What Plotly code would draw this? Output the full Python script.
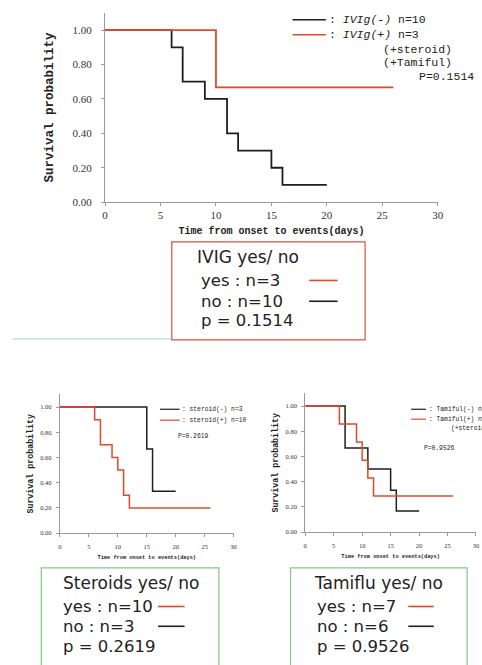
import plotly.graph_objects as go

W, H = 482, 665

# ---- data (Kaplan-Meier step points) ----
ivig_no_t = [0, 6, 7, 9, 11, 12, 15, 16, 20]
ivig_no_s = [1.0, 0.9, 0.7, 0.6, 0.4, 0.3, 0.2, 0.1, 0.1]
ivig_yes_t = [0, 10, 26]
ivig_yes_s = [1.0, 0.667, 0.667]

ster_no_t = [0, 15, 16, 20]
ster_no_s = [1.0, 0.667, 0.333, 0.333]
ster_yes_t = [0, 6, 7, 9, 10, 11, 12, 26]
ster_yes_s = [1.0, 0.9, 0.7, 0.6, 0.5, 0.3, 0.2, 0.2]

tami_no_t = [0, 7, 11, 15, 16, 20]
tami_no_s = [1.0, 0.667, 0.5, 0.333, 0.167, 0.167]
tami_yes_t = [0, 6, 9, 10, 11, 12, 26]
tami_yes_s = [1.0, 0.857, 0.714, 0.571, 0.429, 0.286, 0.286]

y_ticks = [0, 0.2, 0.4, 0.6, 0.8, 1.0]
y_tick_labels = ["0.00", "0.20", "0.40", "0.60", "0.80", "1.00"]
x_ticks = [0, 5, 10, 15, 20, 25, 30]

RED = "#e2492c"
BLACK = "#1e1e1e"
AX = "#9a9a9a"


def px(x):
    return x / W


def py(y):
    return 1 - y / H


fig = go.Figure()

panels = [
    ("x", "y", ivig_no_t, ivig_no_s, ivig_yes_t, ivig_yes_s, 1.8),
    ("x2", "y2", ster_no_t, ster_no_s, ster_yes_t, ster_yes_s, 1.5),
    ("x3", "y3", tami_no_t, tami_no_s, tami_yes_t, tami_yes_s, 1.5),
]
for xa, ya, bt, bs, rt, rs, lw in panels:
    fig.add_trace(go.Scatter(x=bt, y=bs, mode="lines", line_shape="hv",
                             line=dict(color=BLACK, width=lw), xaxis=xa, yaxis=ya,
                             showlegend=False, hoverinfo="skip"))
    fig.add_trace(go.Scatter(x=rt, y=rs, mode="lines", line_shape="hv",
                             line=dict(color=RED, width=lw), xaxis=xa, yaxis=ya,
                             showlegend=False, hoverinfo="skip"))


def axis_x(domain, anchor, tsize, title, tfsize, standoff, lstand):
    return dict(domain=domain, anchor=anchor, range=[0, 30], tickvals=x_ticks,
                showgrid=False, zeroline=False, showline=True, linecolor=AX, linewidth=1,
                ticks="outside", ticklen=3, tickcolor=AX, ticklabelstandoff=lstand,
                tickfont=dict(family="Liberation Serif", size=tsize, color="#333"),
                title=dict(text=title, standoff=standoff,
                           font=dict(family="Liberation Mono", size=tfsize, color="#222",
                                     weight="bold")),
                fixedrange=True)


def axis_y(domain, anchor, tsize, title, tfsize, standoff, lstand):
    return dict(domain=domain, anchor=anchor, range=[0, 1.1], tickvals=y_ticks,
                ticktext=y_tick_labels, showgrid=False, zeroline=False, showline=True,
                linecolor=AX, linewidth=1, ticks="outside", ticklen=3, tickcolor=AX,
                ticklabelstandoff=lstand,
                tickfont=dict(family="Liberation Serif", size=tsize, color="#333"),
                title=dict(text=title, standoff=standoff,
                           font=dict(family="Liberation Mono", size=tfsize, color="#222",
                                     weight="bold")),
                fixedrange=True)


xt = "Time from onset to events(days)"
yt = "Survival probability"
fig.update_layout(
    width=W, height=H, margin=dict(l=0, r=0, t=0, b=0),
    paper_bgcolor="white", plot_bgcolor="rgba(0,0,0,0)",
    xaxis=axis_x([px(104), px(443)], "y", 11, xt, 10, 6, 0),
    yaxis=axis_y([py(204), py(13)], "x", 11, yt, 12.5, 16, 7),
    xaxis2=axis_x([px(58), px(235)], "y2", 6.5, xt, 5.3, 6, 4),
    yaxis2=axis_y([py(538), py(398)], "x2", 6.5, yt, 8.3, 5, 3),
    xaxis3=axis_x([px(308), 1.0], "y3", 6.5, xt, 5.3, 6, 4),
    yaxis3=axis_y([py(537), py(397)], "x3", 6.5, yt, 8.3, 5, 3),
)

shapes = []
annots = []


def legline(x0, x1, y, color, w=1.5):
    shapes.append(dict(type="line", xref="paper", yref="paper", x0=px(x0), x1=px(x1),
                       y0=py(y), y1=py(y), line=dict(color=color, width=w)))


def txt(x, y, s, size, family="Liberation Mono", color="#222", anchor="left"):
    annots.append(dict(xref="paper", yref="paper", x=px(x), y=py(y), text=s,
                       showarrow=False, xanchor=anchor, yanchor="middle",
                       borderpad=0,
                       font=dict(family=family, size=size, color=color)))


# main legend
legline(295, 329, 20, BLACK)
legline(295, 329, 35, RED)
txt(331, 20, ": <i>IVIg(-)</i> n=10", 11.5)
txt(331, 35, ": <i>IVIg(+)</i> n=3", 11.5)
txt(386, 50, "(+steroid)", 11.5)
txt(386, 63, "(+Tamiful)", 11.5)
txt(423, 77, "P=0.1514", 11.5)

# steroid legend
legline(160, 180, 413, BLACK, 1.2)
legline(160, 180, 424, RED, 1.2)
txt(181, 413, ": steroid(-) n=3", 6.3)
txt(181, 424, ": steroid(+) n=10", 6.3)
txt(177, 440, "P=0.2619", 6.3)

# tamiful legend
legline(416, 431, 413, BLACK, 1.2)
legline(416, 431, 423, RED, 1.2)
txt(433, 413, ": Tamiful(-) n=6", 6.3)
txt(433, 423, ": Tamiful(+) n=7", 6.3)
txt(456, 432, "(+steroid)", 6.3)
txt(428, 453, "P=0.9526", 6.3)

# teal separator line
shapes.append(dict(type="line", xref="paper", yref="paper", x0=px(10), x1=px(172),
                   y0=py(342), y1=py(342), line=dict(color="#9dd5cc", width=1)))

SANS = "DejaVu Sans"


def box(x0, x1, y0, y1, color, title, tx, rx, rows, lx0, lx1):
    shapes.append(dict(type="rect", xref="paper", yref="paper", x0=px(x0), x1=px(x1),
                       y0=py(y1), y1=py(y0), line=dict(color=color, width=1.2),
                       fillcolor="rgba(0,0,0,0)"))
    txt(tx, title[1], title[0], 17, SANS, "#222")
    for (s, y, c) in rows:
        txt(rx, y, s, 16.5, SANS, "#222")
        if c:
            legline(lx0, lx1, y, c, 1.6)


box(172, 369, 244, 343, "#d4533c", ("IVIG yes/ no", 259), 197, 201,
    [("yes : n=3", 283, RED), ("no : n=10", 304, BLACK), ("p = 0.1514", 323, None)], 312, 341)
box(39, 220, 573, 680, "#82c882", ("Steroids yes/ no", 588), 60, 60,
    [("yes : n=10", 612, RED), ("no : n=3", 632, BLACK), ("p = 0.2619", 652, None)], 158, 185)
box(293, 473, 573, 680, "#82c882", ("Tamiflu yes/ no", 588), 316, 319,
    [("yes : n=7", 612, RED), ("no : n=6", 632, BLACK), ("p = 0.9526", 652, None)], 413, 439)

fig.update_layout(shapes=shapes, annotations=annots)
fig.write_html("out.html", config={"displayModeBar": False, "staticPlot": True},
               post_script="document.body.style.margin='0';document.body.style.overflow='hidden';")
